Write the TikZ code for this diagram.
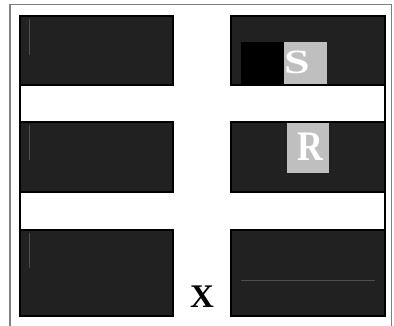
\documentclass[tikz,border=0pt]{standalone}
\usepackage{xcolor}
\usepackage{fontspec}
\setmainfont{Liberation Serif}
\usepackage{tikz}
\usetikzlibrary{positioning}

\definecolor{blockfill}{HTML}{212121}
\definecolor{tagfill}{HTML}{BFBFBF}
\definecolor{framegray}{HTML}{808080}

\begin{document}
\begin{tikzpicture}[
    x=1pt, y=-1pt,
    block/.style={
        rectangle, inner sep=0pt, outer sep=0pt,
        draw=black, fill=blockfill, line width=1.3pt
    },
    tag/.style={
        rectangle, inner sep=0pt, outer sep=0pt, fill=#1
    },
    letter/.style={inner sep=0pt, anchor=base, text=white, font=\fontsize{#1}{#1}\selectfont\bfseries},
    faint/.style={draw=white!20!blockfill, line width=0.6pt}
]
    \useasboundingbox (0,0) rectangle (394,326);
    \fill[white] (0,0) rectangle (394,326);

    % outer frame, open at the bottom
    \draw[framegray, line width=1.8pt] (10,326) -- (10,4.5) -- (391.5,4.5) -- (391.5,326);

    % left column
    \node[block, minimum width=153pt, minimum height=69pt] (L1) at (96.5,50.5) {};
    \node[block, minimum width=153pt, minimum height=70pt] (L2) at (96.5,157)  {};
    \node[block, minimum width=153pt, minimum height=86pt] (L3) at (96.5,273)  {};
    % right column
    \node[block, minimum width=154pt, minimum height=69pt] (R1) at (308,50.5)  {};
    \node[block, minimum width=154pt, minimum height=70pt] (R2) at (308,157)   {};
    \node[block, minimum width=154pt, minimum height=86pt] (R3) at (308,273)   {};

    % side walls of the white bands
    \draw[line width=1.3pt] (L1.north west) -- (L3.south west);
    \draw[line width=1.3pt] (R1.north east) -- (R3.south east);

    % faint marks inside the blocks
    \draw[faint] (29,19)  -- (29,55);
    \draw[faint] (29,125) -- (29,160);
    \draw[faint] (29,233) -- (29,268);
    \draw[faint] (241,280) -- (375,280);

    % S and R
    \node[tag=black,   minimum width=43pt, minimum height=42pt] (Sdark) at (262.5,63)  {};
    \node[tag=tagfill, minimum width=43pt, minimum height=42pt] (Sbox)  at (305.5,63)  {};
    \node[letter=34] (S) at (297,74) {\scalebox{1.35}[1]{S}};
    \node[tag=tagfill, minimum width=42pt, minimum height=50pt] (Rbox)  at (308,148)   {};
    \node[letter=42] (R) at (310,161) {\scalebox{0.85}[1]{R}};

    % X
    \node[inner sep=0pt, anchor=base, font=\fontsize{33}{33}\selectfont\bfseries] (X) at (202,307) {X};
\end{tikzpicture}
\end{document}
